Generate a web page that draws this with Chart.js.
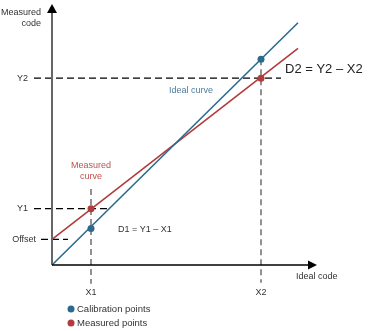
<!DOCTYPE html>
<html lang="en">
<head>
  <meta charset="UTF-8">
  <title>Calibration</title>
  <script src="https://cdn.jsdelivr.net/npm/chart.js"></script>
  <style>
    html, body { margin: 0; padding: 0; background: #fff; }
  </style>
</head>
<body>
  <canvas id="calChart" width="368" height="331"></canvas>

  <script>
    // values (axis units: 0..265 along x, 0..264 along y)
    const idealCurve = [{x: 0, y: 0}, {x: 246, y: 245}];
    const measuredCurve = [{x: 0, y: 26}, {x: 246, y: 219}];
    const calibrationPoints = [{x: 39, y: 37}, {x: 209, y: 208}];
    const measuredPoints = [{x: 39, y: 57}, {x: 209, y: 189}];

    const xTickLabels = ['X1', 'X2'];
    const xTickValues = [39, 209];
    const yTickLabels = ['Offset', 'Y1', 'Y2'];
    const yTickValues = [26, 57, 189];

    const BLUE = '#2c6a8d';
    const RED = '#b23b3b';
    const FONT = '"Liberation Sans", Arial, sans-serif';

    // dashed guide lines
    const guideY2 = [{x: -18, y: 189}, {x: 229, y: 189}];
    const guideY1 = [{x: -18, y: 57}, {x: 58, y: 57}];
    const guideOffset = [{x: -11, y: 26}, {x: 16, y: 26}];
    const guideX1 = [{x: 39, y: 77}, {x: 39, y: -19}];
    const guideX2 = [{x: 209, y: 208}, {x: 209, y: -18}];

    function line(data, color, width, dash, order) {
      return {
        data: data, showLine: true, borderColor: color, borderWidth: width,
        borderDash: dash || [], pointRadius: 0, clip: false, order: order
      };
    }

    function points(data, color) {
      return {
        data: data, showLine: false, backgroundColor: color, borderColor: color,
        pointRadius: 3.5, pointBorderWidth: 0, clip: false, order: 0
      };
    }

    // axes, arrows and all text labels
    const annotate = {
      id: 'annotate',
      afterDatasetsDraw(chart) {
        const c = chart.ctx;
        const xs = chart.scales.x, ys = chart.scales.y;
        const px = v => xs.getPixelForValue(v);
        const py = v => ys.getPixelForValue(v);
        const x0 = px(0), y0 = py(0);
        const xEnd = px(265), yEnd = py(264);
        c.save();

        // y axis
        c.strokeStyle = '#666';
        c.lineWidth = 2;
        c.beginPath();
        c.moveTo(x0, y0);
        c.lineTo(x0, yEnd + 8);
        c.stroke();
        c.fillStyle = '#000';
        c.beginPath();
        c.moveTo(x0, yEnd);
        c.lineTo(x0 - 5, yEnd + 9);
        c.lineTo(x0 + 5, yEnd + 9);
        c.closePath();
        c.fill();

        // x axis
        c.strokeStyle = '#000';
        c.lineWidth = 1.5;
        c.beginPath();
        c.moveTo(x0, y0);
        c.lineTo(xEnd - 8, y0);
        c.stroke();
        c.beginPath();
        c.moveTo(xEnd, y0);
        c.lineTo(xEnd - 9, y0 - 4.5);
        c.lineTo(xEnd - 9, y0 + 4.5);
        c.closePath();
        c.fill();

        c.textBaseline = 'middle';
        c.font = '9px ' + FONT;
        c.fillStyle = '#333';

        // y tick labels
        c.textAlign = 'right';
        yTickLabels.forEach((t, i) => {
          const right = t === 'Offset' ? x0 - 16 : x0 - 24;
          c.fillText(t, right, py(yTickValues[i]));
        });
        c.fillText('Measured', x0 - 11, py(255));
        c.fillText('code', x0 - 11, py(244));

        // x tick labels
        c.textAlign = 'center';
        xTickLabels.forEach((t, i) => {
          c.fillText(t, px(xTickValues[i]), y0 + 28);
        });
        c.textAlign = 'left';
        c.fillText('Ideal code', px(244), y0 + 12);

        // difference labels
        c.fillText('D1 = Y1 \u2013 X1', px(66), py(36));
        c.font = '13px ' + FONT;
        c.fillStyle = '#222';
        c.fillText('D2 = Y2 \u2013 X2', px(233), py(198));

        // curve names
        c.font = '9px ' + FONT;
        c.fillStyle = '#4a7e9c';
        c.textAlign = 'center';
        c.fillText('Ideal curve', px(139), py(176));
        c.fillStyle = '#c0504d';
        c.fillText('Measured', px(39), py(101));
        c.fillText('curve', px(39), py(90));

        // legend
        const legend = [['Calibration points', BLUE], ['Measured points', RED]];
        legend.forEach((item, i) => {
          const ly = y0 + 44 + i * 14;
          c.fillStyle = item[1];
          c.beginPath();
          c.arc(px(19), ly, 3.5, 0, Math.PI * 2);
          c.fill();
          c.fillStyle = '#333';
          c.textAlign = 'left';
          c.font = '9.5px ' + FONT;
          c.fillText(item[0], px(25), ly);
        });

        c.restore();
      }
    };

    const ctx = document.getElementById('calChart').getContext('2d');
    new Chart(ctx, {
      type: 'scatter',
      data: {
        datasets: [
          points(measuredPoints, RED),
          points(calibrationPoints, BLUE),
          line(idealCurve, BLUE, 1.6, null, 1),
          line(measuredCurve, RED, 1.6, null, 1),
          line(guideY2, '#000', 1.2, [7, 4], 2),
          line(guideY1, '#000', 1.2, [7, 4], 2),
          line(guideOffset, '#000', 1.2, [7, 4], 2),
          line(guideX1, '#777', 1.6, [6, 4], 2),
          line(guideX2, '#777', 1.6, [6, 4], 2)
        ]
      },
      options: {
        responsive: false,
        animation: false,
        layout: { padding: { left: 52, right: 51, top: 1, bottom: 66 } },
        scales: {
          x: { type: 'linear', min: 0, max: 265, display: false },
          y: { type: 'linear', min: 0, max: 264, display: false }
        },
        plugins: {
          legend: { display: false },
          tooltip: { enabled: false }
        }
      },
      plugins: [annotate]
    });
  </script>
</body>
</html>
